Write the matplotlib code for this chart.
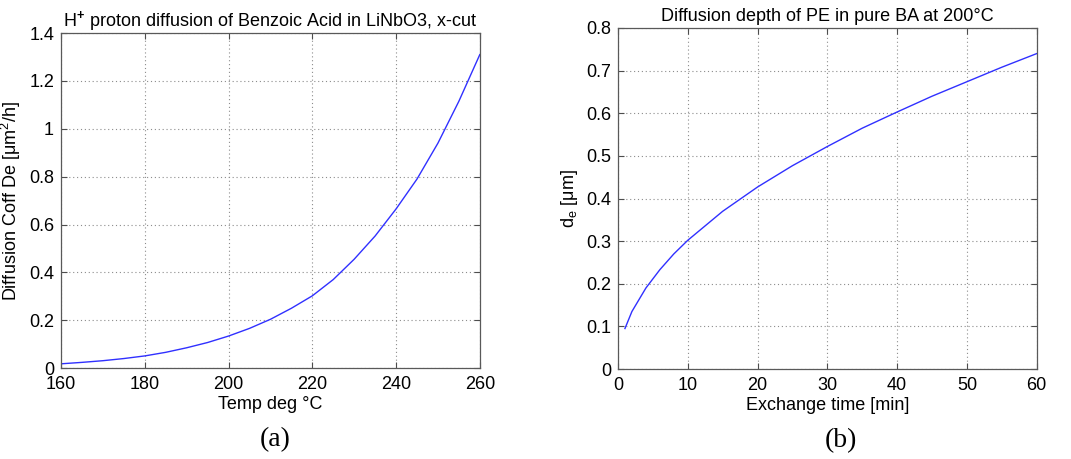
import matplotlib
matplotlib.use("Agg")
import matplotlib.pyplot as plt
from matplotlib.ticker import FuncFormatter

plt.rcParams["font.family"] = ["Liberation Sans", "DejaVu Sans"]
plt.rcParams["mathtext.fontset"] = "custom"
plt.rcParams["mathtext.rm"] = "Liberation Sans"
plt.rcParams["mathtext.it"] = "Liberation Sans"
plt.rcParams["mathtext.bf"] = "Liberation Sans:bold"

# (a) diffusion coefficient vs temperature
temp = [160, 165, 170, 175, 180, 185, 190, 195, 200, 205, 210, 215, 220,
        225, 230, 235, 240, 245, 250, 255, 260]
diff_coef = [0.018, 0.024, 0.031, 0.040, 0.051, 0.066, 0.085, 0.107, 0.134,
             0.166, 0.204, 0.250, 0.302, 0.370, 0.455, 0.552, 0.665, 0.790,
             0.940, 1.115, 1.310]

# (b) diffusion depth vs exchange time
time_min = [1, 2, 4, 6, 8, 10, 15, 20, 25, 30, 35, 40, 45, 50, 55, 60]
depth = [0.095, 0.135, 0.190, 0.233, 0.270, 0.302, 0.370, 0.427, 0.477,
         0.522, 0.565, 0.603, 0.640, 0.674, 0.708, 0.740]

FS = 13

fig = plt.figure(figsize=(10.71, 4.59), dpi=100)
ax1 = fig.add_axes([0.057, 0.198, 0.391, 0.730])
ax2 = fig.add_axes([0.577, 0.196, 0.391, 0.743])


def g_fmt(v, pos):
    return "%g" % round(v, 6)


for ax in (ax1, ax2):
    ax.grid(True, linestyle=(0, (1, 2.5)), color="0.55", linewidth=0.8)
    ax.tick_params(direction="in", top=True, right=True, labelsize=FS,
                   length=4, width=0.8, color="0.3")
    ax.tick_params(axis="x", pad=6)
    ax.tick_params(axis="y", pad=5)
    for s in ax.spines.values():
        s.set_color("0.35")
        s.set_linewidth(0.9)
    ax.yaxis.set_major_formatter(FuncFormatter(g_fmt))
    ax.xaxis.set_major_formatter(FuncFormatter(g_fmt))

ax1.plot(temp, diff_coef, color="#3030ff", linewidth=1.0)
ax1.set_xlim(160, 260)
ax1.set_ylim(0, 1.4)
ax1.set_xticks([160, 180, 200, 220, 240, 260])
ax1.set_yticks([0, 0.2, 0.4, 0.6, 0.8, 1, 1.2, 1.4])
ax1.set_title("H$^{\\mathbf{+}}$ proton diffusion of Benzoic Acid in LiNbO3, x-cut",
              fontsize=FS, pad=5)
ax1.set_xlabel("Temp deg °C", fontsize=FS, labelpad=2)
ax1.set_ylabel("Diffusion Coff De [μm$^2$/h]", fontsize=FS, labelpad=4)

ax2.plot(time_min, depth, color="#3030ff", linewidth=1.0)
ax2.set_xlim(0, 60)
ax2.set_ylim(0, 0.8)
ax2.set_xticks([0, 10, 20, 30, 40, 50, 60])
ax2.set_yticks([0, 0.1, 0.2, 0.3, 0.4, 0.5, 0.6, 0.7, 0.8])
ax2.set_title("Diffusion depth of PE in pure BA at 200°C", fontsize=FS, pad=5)
ax2.set_xlabel("Exchange time [min]", fontsize=FS, labelpad=2)
ax2.set_ylabel("d$_e$ [μm]", fontsize=FS, labelpad=4)

fig.text(275 / 1071, 1 - 440 / 459, "(a)", fontsize=20, family="Liberation Serif",
         ha="center", va="center")
fig.text(841 / 1071, 1 - 441 / 459, "(b)", fontsize=20, family="Liberation Serif",
         ha="center", va="center")

fig.savefig("out.png", dpi=100)
